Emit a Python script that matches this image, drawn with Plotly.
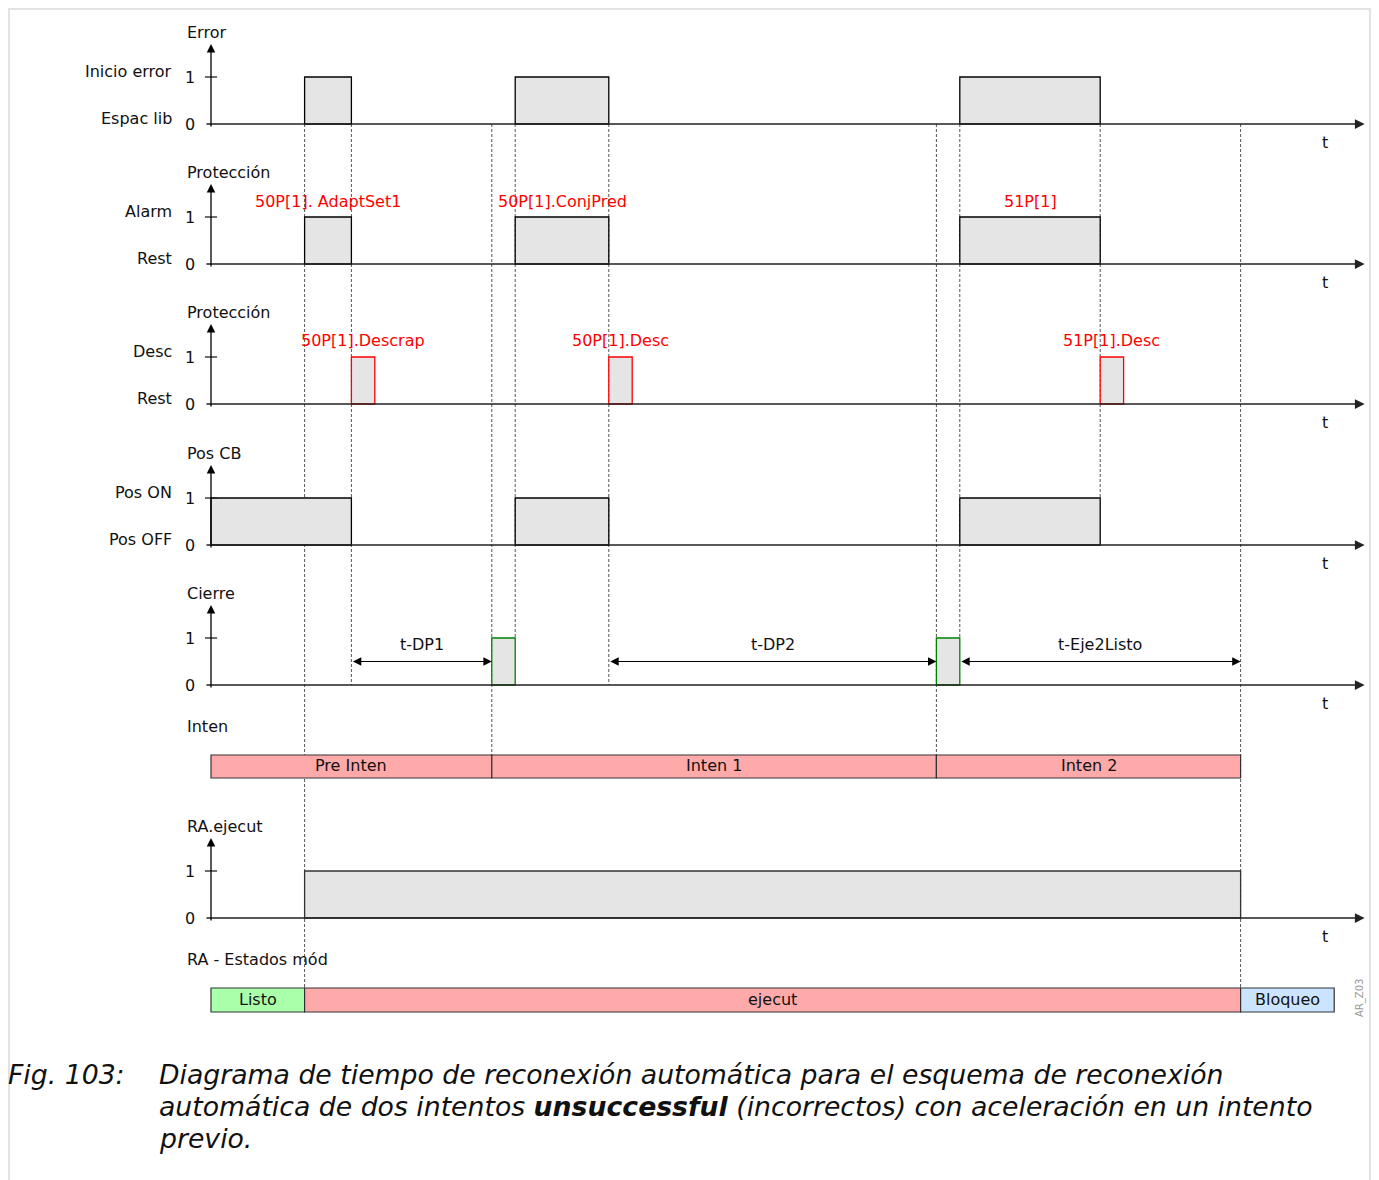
import plotly.graph_objects as go

# ---------------- data ----------------
panel_titles = ["Error", "Protección", "Protección", "Pos CB", "Cierre"]
level1_labels = ["Inicio error", "Alarm", "Desc", "Pos ON", ""]
level0_labels = ["Espac lib", "Rest", "Rest", "Pos OFF", ""]

error_on = [(4, 6), (13, 17), (32, 38)]
alarm_on = [(4, 6), (13, 17), (32, 38)]
trip_on = [(6, 7), (17, 18), (38, 39)]
cb_on = [(0, 6), (13, 17), (32, 38)]
close_on = [(12, 13), (31, 32)]
ra_run_on = [(4, 44)]

alarm_names = ["50P[1]. AdaptSet1", "50P[1].ConjPred", "51P[1]"]
trip_names = ["50P[1].Descrap", "50P[1].Desc", "51P[1].Desc"]

timer_names = ["t-DP1", "t-DP2", "t-Eje2Listo"]
timer_spans = [(6, 12), (17, 31), (32, 44)]

attempt_states = ["Pre Inten", "Inten 1", "Inten 2"]
attempt_edges = [0, 12, 31, 44]
module_states = ["Listo", "ejecut", "Bloqueo"]
module_edges = [0, 4, 44, 48]

guide_times = [4, 6, 12, 13, 17, 31, 32, 38, 44]

# ---------------- layout constants ----------------
OFF = 8                      # page body margin
PW, PH = 1379, 1180          # page size
W, H = PW - OFF, PH - OFF    # figure size
X0 = 211.0 - OFF             # figure pixel of t = 0
PX = 23.4                    # pixels per time unit
LV = 47.0                    # pixels per signal level
T_AX_END = 49.3
FONT = "DejaVu Sans"
FS = 16

bases = [124, 264, 404, 545, 685]   # page-pixel baselines
ra_base = 918
inten_top, inten_bot = 755, 778
est_top, est_bot = 988, 1012

def ylev(base, lev):
    return base - lev * LV

def px_x(p):   # page pixel -> paper x
    return (p - OFF) / W

def px_y(p):   # page pixel -> paper y
    return 1 - (p - OFF) / H

def px_t(p):   # page pixel -> time units
    return (p - OFF - X0) / PX

shapes = []
ann = []

# border
shapes.append(dict(type="rect", xref="paper", yref="paper",
                   x0=px_x(9), x1=px_x(1370), y0=-0.02, y1=px_y(9),
                   line=dict(color="#e3e3e3", width=2), fillcolor="rgba(0,0,0,0)"))

# dashed guides (drawn first -> below pulses)
guide_bottom = {4: est_top, 6: bases[4], 12: inten_top, 13: ylev(bases[4], 1),
                17: bases[4], 31: inten_top, 32: ylev(bases[4], 1),
                38: ylev(bases[3], 1), 44: est_top}
for t in guide_times:
    shapes.append(dict(type="line", xref="x", yref="y", x0=t, x1=t,
                       y0=bases[0], y1=guide_bottom[t],
                       line=dict(color="#555555", width=1, dash="3px,2px")))

def axis(base, title, l1="", l0="", show_t=True):
    ann.append(dict(x=T_AX_END, y=base, ax=-0.26, ay=base, xref="x", yref="y",
                    axref="x", ayref="y", text="", showarrow=True, arrowhead=2,
                    arrowsize=1.3, arrowwidth=1.5, arrowcolor="#222222", standoff=0))
    ann.append(dict(x=0, y=base - 80, ax=0, ay=base + 4, xref="x", yref="y",
                    axref="x", ayref="y", text="", showarrow=True, arrowhead=2,
                    arrowsize=1.3, arrowwidth=1.3, arrowcolor="#000000", standoff=0))
    shapes.append(dict(type="line", xref="x", yref="y", x0=-0.26, x1=0.26,
                       y0=ylev(base, 1), y1=ylev(base, 1),
                       line=dict(color="#222222", width=1.3)))
    for lev, txt in ((1, "1"), (0, "0")):
        ann.append(dict(x=0, y=ylev(base, lev), xref="x", yref="y", text=txt,
                        showarrow=False, xanchor="right", yanchor="middle",
                        xshift=-14, font=dict(family=FONT, size=FS, color="#111")))
    if l1:
        ann.append(dict(x=0, y=ylev(base, 1) - 6, xref="x", yref="y", text=l1,
                        showarrow=False, xanchor="right", yanchor="middle",
                        xshift=-37, font=dict(family=FONT, size=FS, color="#111")))
    if l0:
        ann.append(dict(x=0, y=base - 6, xref="x", yref="y", text=l0,
                        showarrow=False, xanchor="right", yanchor="middle",
                        xshift=-37, font=dict(family=FONT, size=FS, color="#111")))
    ann.append(dict(x=0, y=base - 92, xref="x", yref="y", text=title,
                    showarrow=False, xanchor="left", yanchor="middle",
                    xshift=-26, font=dict(family=FONT, size=FS, color="#111")))
    if show_t:
        ann.append(dict(x=px_t(1325), y=base + 18, xref="x", yref="y", text="t",
                        showarrow=False, xanchor="center", yanchor="middle",
                        font=dict(family=FONT, size=FS, color="#111")))

def pulses(base, intervals, color):
    for a, b in intervals:
        shapes.append(dict(type="rect", xref="x", yref="y", x0=a, x1=b,
                           y0=base, y1=ylev(base, 1), fillcolor="#e5e5e5",
                           line=dict(color=color, width=1.3)))

signals = [error_on, alarm_on, trip_on, cb_on, close_on]
colors = ["#000000", "#000000", "#ff0000", "#000000", "#008000"]
for i in range(5):
    pulses(bases[i], signals[i], colors[i])
    axis(bases[i], panel_titles[i], level1_labels[i], level0_labels[i])
pulses(ra_base, ra_run_on, "#333333")
axis(ra_base, "RA.ejecut")

# red labels
for (a, b), name in zip(alarm_on, alarm_names):
    ann.append(dict(x=(a + b) / 2, y=ylev(bases[1], 1) - 16, xref="x", yref="y",
                    text=name, showarrow=False, xanchor="center", yanchor="middle",
                    font=dict(family=FONT, size=FS, color="#ff0000")))
for (a, b), name in zip(trip_on, trip_names):
    ann.append(dict(x=(a + b) / 2, y=ylev(bases[2], 1) - 17, xref="x", yref="y",
                    text=name, showarrow=False, xanchor="center", yanchor="middle",
                    font=dict(family=FONT, size=FS, color="#ff0000")))

# timers
for (a, b), name in zip(timer_spans, timer_names):
    ymid = ylev(bases[4], 0.5)
    ann.append(dict(x=b, y=ymid, ax=a, ay=ymid, xref="x", yref="y", axref="x",
                    ayref="y", text="", showarrow=True, arrowhead=2, startarrowhead=2,
                    arrowside="end+start", arrowsize=1.4, startarrowsize=1.4,
                    arrowwidth=1.2, arrowcolor="#000000", standoff=0, startstandoff=0))
    ann.append(dict(x=(a + b) / 2, y=ymid - 17, xref="x", yref="y", text=name,
                    showarrow=False, xanchor="center", yanchor="middle",
                    font=dict(family=FONT, size=FS, color="#111")))

# state bars
def state_bar(top, bot, edges, names, fills, title):
    for i, nm in enumerate(names):
        shapes.append(dict(type="rect", xref="x", yref="y", x0=edges[i], x1=edges[i + 1],
                           y0=top, y1=bot, fillcolor=fills[i],
                           line=dict(color="#333333", width=1.2)))
        ann.append(dict(x=(edges[i] + edges[i + 1]) / 2, y=(top + bot) / 2 - 1, xref="x",
                        yref="y", text=nm, showarrow=False, xanchor="center",
                        yanchor="middle", font=dict(family=FONT, size=FS, color="#111")))
    ann.append(dict(x=0, y=top - 29, xref="x", yref="y", text=title,
                    showarrow=False, xanchor="left", yanchor="middle",
                    xshift=-26, font=dict(family=FONT, size=FS, color="#111")))

state_bar(inten_top, inten_bot, attempt_edges, attempt_states,
          ["#ffaaaa", "#ffaaaa", "#ffaaaa"], "Inten")
state_bar(est_top, est_bot, module_edges, module_states,
          ["#aaffaa", "#ffaaaa", "#cce5ff"], "RA - Estados mód")

# side code
ann.append(dict(x=px_x(1360), y=px_y(998), xref="paper", yref="paper", text="AR_Z03",
                showarrow=False, textangle=-90, xanchor="center", yanchor="middle",
                font=dict(family=FONT, size=10, color="#9a9a9a")))

# caption
CAP = 26.7
ann.append(dict(x=px_x(6), y=px_y(1074), xref="paper", yref="paper",
                text="<i>Fig. 103:</i>", showarrow=False, xanchor="left", yanchor="middle",
                font=dict(family=FONT, size=CAP, color="#111")))
cap_lines = [
    "<i>Diagrama de tiempo de reconexión automática para el esquema de reconexión</i>",
    "<i>automática de dos intentos <b>unsuccessful</b> (incorrectos) con aceleración en un intento</i>",
    "<i>previo.</i>",
]
for k, line in enumerate(cap_lines):
    ann.append(dict(x=px_x(157), y=px_y(1074 + 32 * k), xref="paper", yref="paper",
                    text=line, showarrow=False, xanchor="left", yanchor="middle",
                    font=dict(family=FONT, size=CAP, color="#111")))

fig = go.Figure()
fig.add_trace(go.Scatter(x=[0], y=[0], mode="markers", marker=dict(opacity=0),
                         hoverinfo="skip", showlegend=False))
fig.update_layout(
    width=W, height=H, margin=dict(l=0, r=0, t=0, b=0),
    paper_bgcolor="white", plot_bgcolor="white", showlegend=False,
    xaxis=dict(range=[-X0 / PX, (W - X0) / PX], visible=False, fixedrange=True),
    yaxis=dict(range=[PH, OFF], visible=False, fixedrange=True),
    shapes=shapes, annotations=ann,
)
fig.write_html("out.html")
